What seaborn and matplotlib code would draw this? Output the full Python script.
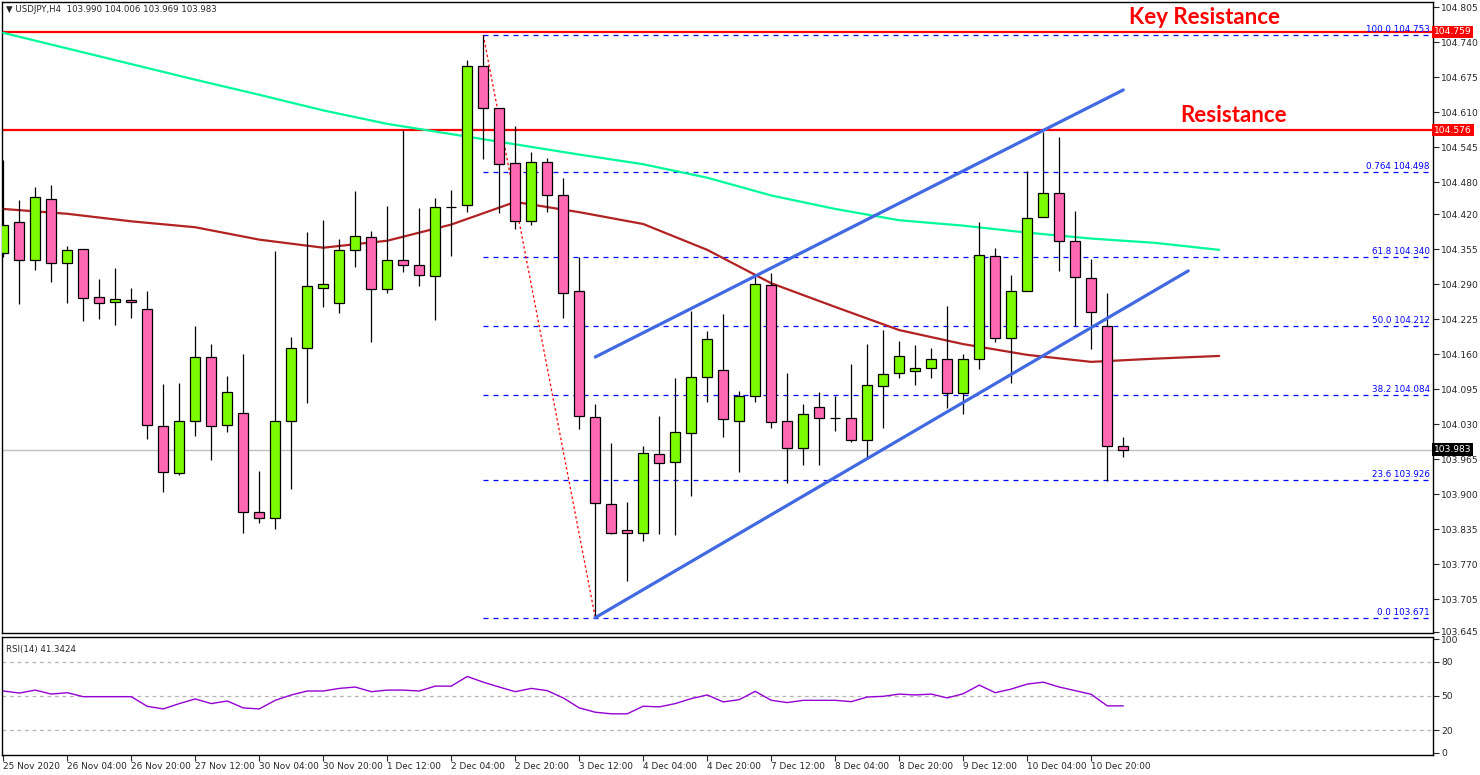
import numpy as np
import pandas as pd
import seaborn as sns
import matplotlib.pyplot as plt
from matplotlib.transforms import blended_transform_factory

# ---- data ----
candle_open = [104.348, 104.405, 104.336, 104.448, 104.330, 104.355, 104.266, 104.257, 104.260, 104.244,
               104.026, 103.939, 104.036, 104.155, 104.028, 104.051, 103.867, 103.856, 104.036, 104.171,
               104.284, 104.255, 104.354, 104.378, 104.281, 104.335, 104.325, 104.305, 104.433, 104.437,
               104.695, 104.617, 104.515, 104.407, 104.517, 104.455, 104.277, 104.044, 103.882, 103.833,
               103.829, 103.975, 103.960, 104.014, 104.118, 104.131, 104.036, 104.083, 104.289, 104.036,
               103.986, 104.062, 104.041, 104.041, 104.001, 104.101, 104.125, 104.129, 104.135, 104.152,
               104.088, 104.151, 104.342, 104.190, 104.277, 104.415, 104.459, 104.370, 104.301, 104.212,
               103.990]
candle_high = [104.521, 104.447, 104.471, 104.474, 104.361, 104.355, 104.300, 104.320, 104.283, 104.278,
               104.105, 104.107, 104.213, 104.179, 104.120, 104.161, 103.943, 104.352, 104.192, 104.387,
               104.409, 104.374, 104.463, 104.389, 104.435, 104.576, 104.432, 104.450, 104.465, 104.707,
               104.753, 104.617, 104.584, 104.535, 104.525, 104.487, 104.340, 104.068, 103.996, 103.886,
               103.989, 104.045, 104.116, 104.241, 104.203, 104.235, 104.092, 104.309, 104.311, 104.126,
               104.068, 104.090, 104.083, 104.142, 104.179, 104.205, 104.184, 104.177, 104.172, 104.250,
               104.161, 104.406, 104.357, 104.307, 104.500, 104.573, 104.564, 104.426, 104.337, 104.274,
               104.006]
candle_low = [104.341, 104.254, 104.317, 104.295, 104.256, 104.221, 104.226, 104.215, 104.228, 104.002,
              103.905, 103.935, 104.009, 103.964, 104.016, 103.829, 103.846, 103.835, 103.909, 104.070,
              104.247, 104.236, 104.323, 104.182, 104.273, 104.312, 104.286, 104.224, 104.343, 104.425,
              104.522, 104.422, 104.392, 104.401, 104.425, 104.228, 104.021, 103.671, 103.826, 103.739,
              103.814, 103.826, 103.824, 103.897, 104.071, 104.006, 103.941, 104.071, 104.024, 103.921,
              103.954, 103.954, 104.017, 103.997, 103.969, 104.024, 104.116, 104.103, 104.116, 104.061,
              104.050, 104.132, 104.182, 104.107, 104.277, 104.415, 104.315, 104.213, 104.170, 103.925,
              103.969]
candle_close = [104.401, 104.336, 104.452, 104.330, 104.353, 104.264, 104.255, 104.262, 104.257, 104.028,
                103.942, 104.036, 104.155, 104.026, 104.090, 103.867, 103.856, 104.036, 104.171, 104.286,
                104.290, 104.354, 104.379, 104.281, 104.335, 104.325, 104.307, 104.433, 104.434, 104.695,
                104.617, 104.513, 104.407, 104.517, 104.455, 104.273, 104.045, 103.884, 103.828, 103.829,
                103.977, 103.958, 104.016, 104.118, 104.189, 104.039, 104.083, 104.291, 104.035, 103.986,
                104.049, 104.041, 104.041, 104.001, 104.103, 104.123, 104.157, 104.135, 104.152, 104.088,
                104.152, 104.344, 104.190, 104.277, 104.413, 104.459, 104.370, 104.303, 104.238, 103.990,
                103.983]

time_labels = ["25 Nov 2020", "26 Nov 04:00", "26 Nov 20:00", "27 Nov 12:00", "30 Nov 04:00",
               "30 Nov 20:00", "1 Dec 12:00", "2 Dec 04:00", "2 Dec 20:00", "3 Dec 12:00",
               "4 Dec 04:00", "4 Dec 20:00", "7 Dec 12:00", "8 Dec 04:00", "8 Dec 20:00",
               "9 Dec 12:00", "10 Dec 04:00", "10 Dec 20:00"]
time_label_bars = [0, 4, 8, 12, 16, 20, 24, 28, 32, 36, 40, 44, 48, 52, 56, 60, 64, 68]

# moving averages, sampled every 4 bars
ma_bars = [0, 4, 8, 12, 16, 20, 24, 28, 32, 36, 40, 44, 48, 52, 56, 60, 64, 68, 72, 76]
ma200 = [104.757, 104.728, 104.699, 104.670, 104.642, 104.613, 104.588, 104.569, 104.550, 104.531,
         104.513, 104.488, 104.455, 104.430, 104.409, 104.399, 104.386, 104.375, 104.367, 104.354]
ma100 = [104.430, 104.421, 104.407, 104.396, 104.373, 104.358, 104.371, 104.401, 104.443, 104.424,
         104.402, 104.354, 104.292, 104.248, 104.205, 104.179, 104.159, 104.146, 104.152, 104.157]

rsi14 = [54.4, 52.6, 55.2, 51.7, 52.9, 49.4, 49.4, 49.4, 49.4, 40.9,
         38.6, 43.3, 47.4, 43.3, 45.6, 39.5, 38.6, 46.2, 50.9, 54.4,
         54.4, 56.7, 57.9, 53.8, 55.2, 55.2, 54.4, 58.7, 58.7, 67.2,
         62.2, 57.9, 53.8, 56.7, 54.7, 48.3, 39.5, 35.7, 34.3, 34.3,
         41.0, 40.4, 43.3, 47.7, 50.9, 44.8, 46.8, 54.1, 46.2, 44.2,
         46.2, 46.2, 46.2, 45.0, 49.1, 49.7, 51.7, 50.9, 51.7, 48.3,
         52.0, 59.6, 52.9, 56.1, 60.5, 62.2, 57.9, 54.7, 51.5, 41.3,
         41.3]
rsi_levels = [80, 50, 20]

fib_names = ["100.0", "0.764", "61.8", "50.0", "38.2", "23.6", "0.0"]
fib_prices = [104.753, 104.498, 104.340, 104.212, 104.084, 103.926, 103.671]
fib_swing_bars = [30, 37]
fib_swing_prices = [104.753, 103.671]

resistance_levels = [104.759, 104.576]
resistance_names = ["Key Resistance", "Resistance"]
last_price = 103.983

channel_low_bars = [37, 74.06]
channel_low_prices = [103.671, 104.315]
channel_up_bars = [37, 70]
channel_up_prices = [104.155, 104.651]

price_ticks = [104.805, 104.740, 104.675, 104.610, 104.545, 104.480, 104.420, 104.355, 104.290,
               104.225, 104.160, 104.095, 104.030, 103.965, 103.900, 103.835, 103.770, 103.705, 103.645]

df = pd.DataFrame({"bar": np.arange(len(candle_open)), "open": candle_open, "high": candle_high,
                   "low": candle_low, "close": candle_close, "rsi": rsi14})
ma_df = pd.DataFrame({"bar": ma_bars, "ma200": ma200, "ma100": ma100})

sns.set_style("white")
plt.rcParams['font.family'] = ['DejaVu Sans']
plt.rcParams['axes.linewidth'] = 1.0

fig = plt.figure(figsize=(14.8, 7.75), dpi=100)
ax = fig.add_axes([0.00135, 0.18323, 0.96689, 0.81419])
ax_rsi = fig.add_axes([0.00135, 0.02581, 0.96689, 0.15226], sharex=ax)

x_left, x_right = -0.08, 89.36

# horizontal levels
for lvl in resistance_levels:
    ax.axhline(lvl, color='red', lw=1.6, zorder=2)
ax.axhline(last_price, color='#c0c0c0', lw=1.0, zorder=1)

# fibonacci levels
for name, p in zip(fib_names, fib_prices):
    ax.plot([fib_swing_bars[0], x_right], [p, p], color='blue', lw=0.9, ls=(0, (4, 4)), zorder=2)
    ax.text(x_right - 0.2, p + 0.002, f"{name} {p:.3f}", color='blue', fontsize=6.3,
            ha='right', va='bottom', zorder=3)
ax.plot(fib_swing_bars, fib_swing_prices, color='red', lw=0.9, ls=(0, (2, 2)), zorder=2)

# moving averages
sns.lineplot(data=ma_df, x="bar", y="ma200", ax=ax, color='mediumspringgreen', lw=1.6, zorder=3)
sns.lineplot(data=ma_df, x="bar", y="ma100", ax=ax, color='firebrick', lw=1.6, zorder=3)

# candles
up = df["close"] >= df["open"]
ax.vlines(df["bar"], df["low"], df["high"], color='black', lw=0.9, zorder=4)
body_low = np.minimum(df["open"], df["close"])
body_h = (df["close"] - df["open"]).abs()
ax.bar(df["bar"], body_h, bottom=body_low, width=0.62,
       color=np.where(up, '#7cfc00', '#ff69b4'), edgecolor='black', linewidth=0.9, zorder=5)

# channel
ax.plot(channel_low_bars, channel_low_prices, color='royalblue', lw=2.3, zorder=6)
ax.plot(channel_up_bars, channel_up_prices, color='royalblue', lw=2.3, zorder=6)

# annotations
ax.text(75.1, 104.786, resistance_names[0], color='red', fontsize=16, fontweight='bold',
        family='Lato', ha='center', va='center', zorder=7)
ax.text(76.9, 104.603, resistance_names[1], color='red', fontsize=16, fontweight='bold',
        family='Lato', ha='center', va='center', zorder=7)

ax.set_xlim(x_left, x_right)
ax.set_ylim(103.6425, 104.8143)
ax.yaxis.tick_right()
ax.set_yticks(price_ticks)
ax.set_yticklabels([f"{t:.3f}" for t in price_ticks], fontsize=6.6)
ax.tick_params(axis='y', direction='out', length=4, width=0.8, pad=2, right=True, left=False)
ax.tick_params(axis='x', bottom=False, labelbottom=False)
ax.set_xlabel("")
ax.set_ylabel("")
for s in ax.spines.values():
    s.set_color('black')

# price boxes on the right scale
trans = blended_transform_factory(ax.transAxes, ax.transData)
for lvl in resistance_levels:
    ax.text(1.0008, lvl, f"{lvl:.3f}", transform=trans, color='white', fontsize=6.6, ha='left',
            va='center', clip_on=False, zorder=10,
            bbox=dict(facecolor='red', edgecolor='none', pad=1.2))
ax.text(1.0008, last_price, f"{last_price:.3f}", transform=trans, color='white', fontsize=6.6,
        ha='left', va='center', clip_on=False, zorder=10,
        bbox=dict(facecolor='black', edgecolor='none', pad=1.2))

fig.text(0.004, 1 - 10 / 775, "\u25bc USDJPY,H4  103.990 104.006 103.969 103.983",
         fontsize=6.2, ha='left', va='center')

# RSI panel
for lvl in rsi_levels:
    ax_rsi.axhline(lvl, color='#b4b4b4', lw=0.9, ls=(0, (3, 3)))
sns.lineplot(data=df, x="bar", y="rsi", ax=ax_rsi, color='darkviolet', lw=1.0)
ax_rsi.set_ylim(-2, 102)
ax_rsi.yaxis.tick_right()
ax_rsi.set_yticks([0, 20, 50, 80, 100])
ax_rsi.set_yticklabels(["0", "20", "50", "80", "100"], fontsize=6.6)
ax_rsi.tick_params(axis='y', direction='out', length=4, width=0.8, pad=2, right=True, left=False)
ax_rsi.set_xticks(time_label_bars)
ax_rsi.set_xticklabels(time_labels, fontsize=6.4, ha='left')
ax_rsi.tick_params(axis='x', direction='out', length=4, width=0.8, pad=1, bottom=True)
ax_rsi.set_xlabel("")
ax_rsi.set_ylabel("")
ax_rsi.text(0.003, 0.93, "RSI(14) 41.3424", transform=ax_rsi.transAxes, fontsize=6.2,
            ha='left', va='top')
for s in ax_rsi.spines.values():
    s.set_color('black')

fig.savefig("out.png", dpi=100)
